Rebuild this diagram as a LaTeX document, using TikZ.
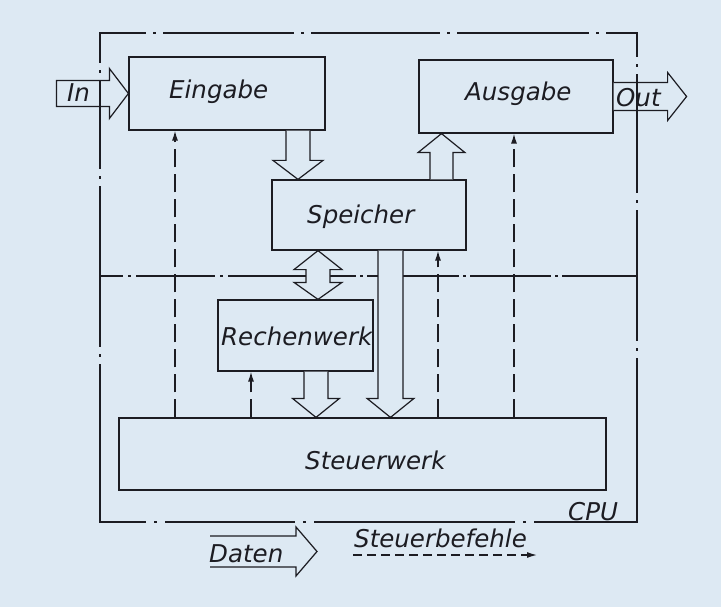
\documentclass[tikz,border=0pt]{standalone}
\usepackage{fontspec}
\setmainfont{DejaVu Sans}[ItalicFont={DejaVu Sans Oblique}]
\usetikzlibrary{arrows.meta,calc}
\definecolor{bg}{RGB}{221,233,243}
\definecolor{ink}{RGB}{28,28,34}
\tikzset{
  box/.style={draw=ink, line width=1.2pt, rectangle, inner sep=0pt},
  lbl/.style={anchor=base west, inner sep=0pt, text=ink, font=\fontsize{24.5}{27}\selectfont\itshape},
  hol/.style={draw=ink, fill=bg, line width=1.2pt, line join=miter},
  holline/.style={draw=ink, line width=1.2pt, line join=miter},
  ctrl/.style={draw=ink, line width=1.3pt, dash pattern=on 18pt off 7pt, -{Latex[length=10pt,width=6pt]}},
  ctrltwo/.style={draw=ink, line width=1.3pt, dash pattern=on 9pt off 5pt, -{Latex[length=10pt,width=6pt]}},
  frameline/.style={draw=ink, line width=1.6pt, line cap=rect},
}
% hollow vertical arrow: #1 start, #2 end, #3 direction (+1 down, -1 up), #4 half shaft, #5 half head
\newcommand{\hollowv}[5]{%
  \path[hol] let \p1=(#1), \p2=(#2) in
    ({\x1-#4pt},\y1) -- ({\x1-#4pt},{\y2+(#3)*19pt}) -- ({\x1-#5pt},{\y2+(#3)*19pt})
    -- (\x1,\y2) -- ({\x1+#5pt},{\y2+(#3)*19pt}) -- ({\x1+#4pt},{\y2+(#3)*19pt})
    -- ({\x1+#4pt},\y1);}
\begin{document}
\begin{tikzpicture}[x=1pt,y=-1pt]
\fill[bg] (0,0) rectangle (721,607);
\useasboundingbox (0,0) rectangle (721,607);

% boxes
\node[box, minimum width=196pt, minimum height=73pt] (ein) at (227,93.5) {};
\node[box, minimum width=194pt, minimum height=73pt] (aus) at (516,96.5) {};
\node[box, minimum width=194pt, minimum height=70pt] (spe) at (369,215) {};
\node[box, minimum width=155pt, minimum height=71pt] (rech) at (295.5,335.5) {};
\node[box, minimum width=487pt, minimum height=72pt] (steu) at (362.5,454) {};

% In / Out arrows
\path[hol] (ein.west) -- ++(-19,-25) -- ++(0,12) -- ++(-53,0) -- ++(0,26) -- ++(53,0) -- ++(0,12) -- cycle;
\path[hol] ($(aus.east)+(0,-14)$) -- ++(54,0) -- ++(0,-10) -- ++(19,24) -- ++(-19,24) -- ++(0,-10) -- ++(-54,0);

% CPU frame (dash-dot) and divider
\node[inner sep=0pt, minimum width=537pt, minimum height=489pt] (cpu) at (368.5,277.5) {};
\draw[frameline, dash pattern=on 45pt off 9pt on 1pt off 9pt on 129pt off 9pt on 1pt off 9pt on 127pt off 9pt on 1pt off 9pt on 130pt off 9pt on 1pt off 9pt on 100pt]
  (cpu.north west) -- (cpu.north east);
\draw[frameline, dash pattern=on 45pt off 10pt on 1pt off 10pt on 128pt off 10pt on 1pt off 10pt on 199pt off 10pt on 1pt off 10pt on 150pt]
  (cpu.south west) -- (cpu.south east);
\draw[frameline, dash pattern=on 29pt off 9pt on 1pt off 9pt on 87pt off 9pt on 1pt off 9pt on 159pt off 9pt on 1pt off 9pt on 200pt]
  (cpu.north west) -- (cpu.south west);
\draw[frameline, dash pattern=on 23pt off 9pt on 1pt off 9pt on 117pt off 9pt on 1pt off 9pt on 129pt off 9pt on 1pt off 9pt on 200pt]
  (cpu.north east) -- (cpu.south east);
\coordinate (hl) at (0,276);
\draw[frameline, line width=1.4pt, dash pattern=on 22pt off 7pt on 1pt off 7pt on 77pt off 7pt on 1pt off 7pt on 126pt off 6pt on 1pt off 6pt on 90pt off 6pt on 1pt off 6pt on 79pt off 6pt on 1pt off 6pt on 90pt]
  (cpu.west |- hl) -- (cpu.east |- hl);

% guide coordinates
\coordinate (gA1) at (298,0);
\coordinate (gA2) at (441.5,0);
\coordinate (gA4) at (316,0);
\coordinate (gA5) at (390.5,0);
\coordinate (gD) at (318,0);
\coordinate (gc1) at (175,0);
\coordinate (gc2) at (251,0);
\coordinate (gc3) at (438,0);
\coordinate (gc4) at (514,0);

% hollow data arrows
\hollowv{ein.south -| gA1}{spe.north -| gA1}{1}{12}{25}
\hollowv{spe.north -| gA2}{aus.south -| gA2}{-1}{11.5}{23.5}
\hollowv{rech.south -| gA4}{steu.north -| gA4}{1}{12}{23.5}
\hollowv{spe.south -| gA5}{steu.north -| gA5}{1}{12.5}{23.5}
\path[hol] let \p1=(spe.south -| gD), \p2=(rech.north -| gD) in
  (\x1,\y1) -- ({\x1+24pt},{\y1-19pt}) -- ({\x1+12pt},{\y1-19pt}) -- ({\x1+12pt},{\y2+17pt})
  -- ({\x1+24pt},{\y2+17pt}) -- (\x2,\y2) -- ({\x1-24pt},{\y2+17pt}) -- ({\x1-12pt},{\y2+17pt})
  -- ({\x1-12pt},{\y1-19pt}) -- ({\x1-24pt},{\y1-19pt}) -- cycle;

% control lines
\draw[ctrl] (steu.north -| gc1) -- (ein.south -| gc1);
\draw[ctrl] (steu.north -| gc2) -- (rech.south -| gc2);
\draw[ctrl] (steu.north -| gc3) -- (spe.south -| gc3);
\draw[ctrl] (steu.north -| gc4) -- (aus.south -| gc4);

% labels
\node[lbl] (tein) at (169,99) {Eingabe};
\node[lbl] (taus) at (465,100.7) {Ausgabe};
\node[lbl] (tspe) at (307,224) {Speicher};
\node[lbl] (trech) at (221,345.7) {Rechenwerk};
\node[lbl] (tsteu) at (305,469) {Steuerwerk};
\node[lbl] (tin) at (67,101.5) {In};
\node[lbl] (tout) at (616,107) {Out};
\node[lbl] (tcpu) at (568,520) {CPU};

% legend
\node[lbl] (tdaten) at (209,562.7) {Daten};
\coordinate (dA) at (210,536);
\draw[holline] (dA) -- ++(86,0) -- ++(0,-9) -- ++(21,24.5) -- ++(-21,24.5) -- ++(0,-9) -- ++(-86,0);
\node[lbl] (tsb) at (354,547) {Steuerbefehle};
\coordinate (sbA) at (353,555);
\coordinate (sbB) at (537,555);
\draw[ctrltwo] (sbA) -- (sbB);
\end{tikzpicture}
\end{document}
